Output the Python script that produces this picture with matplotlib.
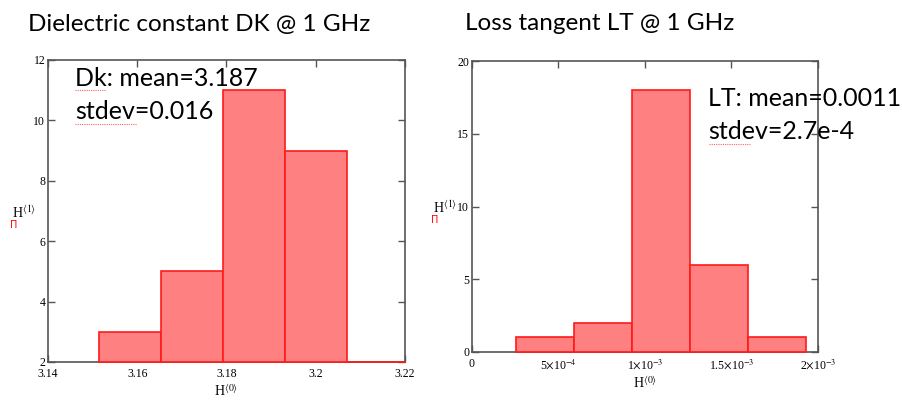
import matplotlib.pyplot as plt
import numpy as np

plt.rcParams['mathtext.fontset'] = 'stix'

# Dielectric constant histogram (bin edges, counts)
dk_edges = [3.1514, 3.1653, 3.1792, 3.1931, 3.2070]
dk_counts = [3, 5, 11, 9]
dk_xticks = [3.14, 3.16, 3.18, 3.2, 3.22]
dk_xlabels = ['3.14', '3.16', '3.18', '3.2', '3.22']
dk_yticks = [2, 4, 6, 8, 10, 12]

# Loss tangent histogram
lt_edges = [2.54e-4, 5.88e-4, 9.23e-4, 1.260e-3, 1.594e-3, 1.929e-3]
lt_counts = [1, 2, 18, 6, 1]
lt_xticks = [0, 5e-4, 1e-3, 1.5e-3, 2e-3]
lt_xlabels = ['0', r'5$\times$10$^{-4}$', r'1$\times$10$^{-3}$',
              r'1.5$\times$10$^{-3}$', r'2$\times$10$^{-3}$']
lt_yticks = [0, 5, 10, 15, 20]

W, H = 903, 401
fig = plt.figure(figsize=(W/100, H/100), dpi=100)

ax1 = fig.add_axes([48/W, 1-362/H, (405-48)/W, (362-60)/H])
ax2 = fig.add_axes([472/W, 1-352/H, (818-472)/W, (352-61)/H])

serif = 'Liberation Serif'
face = '#ff8080'
edge = '#ff1a1a'


def hist(ax, edges, counts, xlim, ylim, xticks, xlabels, yticks):
    edges = np.array(edges)
    ax.bar(edges[:-1], np.array(counts) - ylim[0], width=np.diff(edges),
           bottom=ylim[0], align='edge', color=face, edgecolor=edge,
           linewidth=1.2, zorder=3, clip_on=False)
    ax.set_xlim(*xlim)
    ax.set_ylim(*ylim)
    ax.set_xticks(xticks)
    ax.set_xticklabels(xlabels)
    ax.set_yticks(yticks)
    ax.tick_params(direction='in', length=5, width=1, color='#555555',
                   top=True, right=True, labelsize=8.5, pad=4)
    ax.tick_params(axis='y', pad=2)
    for lab in ax.get_xticklabels() + ax.get_yticklabels():
        lab.set_fontfamily(serif)
    for s in ax.spines.values():
        s.set_color('#555555')
        s.set_linewidth(1.2)
    ax.set_xlabel(r'H$^{\langle 0 \rangle}$', fontsize=10, family=serif,
                  labelpad=3)


hist(ax1, dk_edges, dk_counts, (3.14, 3.22), (2, 12),
     dk_xticks, dk_xlabels, dk_yticks)
ax1.plot([dk_edges[-1], 3.22], [2, 2], color=edge, lw=1.2, zorder=4,
         clip_on=False)
hist(ax2, lt_edges, lt_counts, (0, 2e-3), (0, 20),
     lt_xticks, lt_xlabels, lt_yticks)

# y labels with Mathcad placeholder marker
for x, y in [(12, 213), (433, 208)]:
    fig.text(x/W, 1-y/H, r'H$^{\langle 1 \rangle}$', fontsize=10,
             family=serif, va='center')
    fig.text((x-2)/W, 1-(y+12)/H, '\u03a0', fontsize=7, color='red',
             family='DejaVu Sans', va='center')

sans = 'Lato'
fig.text(28/W, 1-24/H, 'Dielectric constant DK @ 1 GHz', fontsize=17.5,
         family=sans, va='center')
fig.text(465/W, 1-24/H, 'Loss tangent LT @ 1 GHz', fontsize=17.5,
         family=sans, va='center')

fig.text(75/W, 1-78/H, 'Dk: mean=3.187', fontsize=18, family=sans,
         va='center', zorder=5)
fig.text(75/W, 1-112/H, 'stdev=0.016', fontsize=18, family=sans,
         va='center', zorder=5)
fig.text(708/W, 1-98/H, 'LT: mean=0.0011', fontsize=18, family=sans,
         va='center')
fig.text(708/W, 1-132/H, 'stdev=2.7e-4', fontsize=18, family=sans,
         va='center')

# spell-check squiggles
for x0, x1, y in [(75, 105, 90), (75, 137, 124), (709, 750, 144)]:
    fig.add_artist(plt.Line2D([x0/W, x1/W], [1-y/H, 1-y/H],
                              color='#ff6060', lw=0.8, ls=(0, (1, 1))))

fig.savefig('out.png', dpi=100)
